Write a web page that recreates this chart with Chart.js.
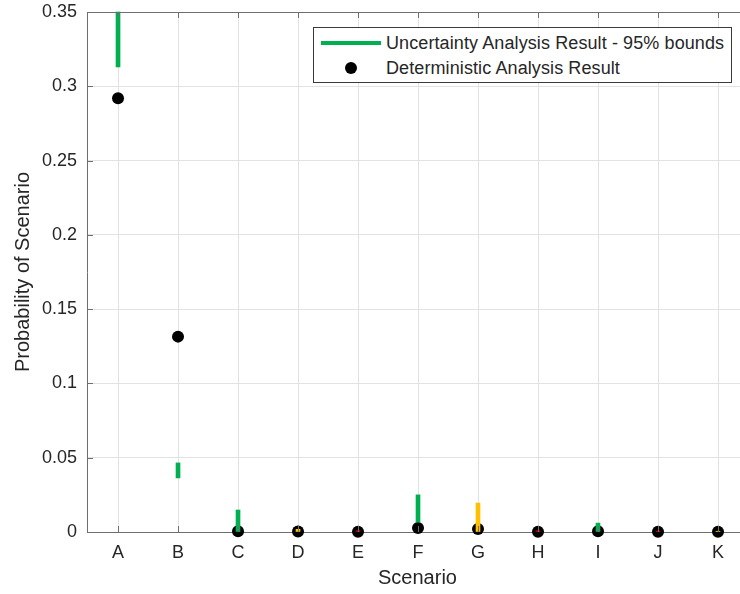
<!DOCTYPE html>
<html lang="en">
<head>
  <meta charset="UTF-8" />
  <title>Probability of Scenario</title>
  <script src="https://cdn.jsdelivr.net/npm/chart.js"></script>
  <style>
    html, body {
      margin: 0;
      padding: 0;
      background: #ffffff;
      overflow: hidden;
      font-family: 'Liberation Sans', Arial, Helvetica, sans-serif;
      color: #262626;
    }
    #wrap {
      position: relative;
      width: 760px;
      height: 594px;
    }
    #legend {
      position: absolute;
      left: 313px;
      top: 27px;
      width: 417px;
      height: 54px;
      border: 1px solid #3a3a3a;
      background: #ffffff;
      font-size: 18px;
    }
    .legend-row {
      position: absolute;
      left: 0;
      height: 24px;
      line-height: 24px;
      white-space: nowrap;
    }
    .legend-row span.label {
      position: absolute;
      left: 72px;
      top: 0;
      letter-spacing: 0.1px;
    }
    .swatch-line {
      position: absolute;
      left: 7px;
      top: 10px;
      width: 60px;
      height: 4px;
      background: #00b050;
    }
    .swatch-dot {
      position: absolute;
      left: 31px;
      top: 6px;
      width: 12px;
      height: 12px;
      border-radius: 50%;
      background: #000000;
    }
  </style>
</head>
<body>

<div id="wrap">
  <canvas id="chart"></canvas>
  <div id="legend">
    <div class="legend-row" style="top:3px;">
      <div class="swatch-line"></div>
      <span class="label">Uncertainty Analysis Result - 95% bounds</span>
    </div>
    <div class="legend-row" style="top:28px;">
      <div class="swatch-dot"></div>
      <span class="label">Deterministic Analysis Result</span>
    </div>
  </div>
</div>

<script>
  // scenarios on the x axis
  const categories = ['A', 'B', 'C', 'D', 'E', 'F', 'G', 'H', 'I', 'J', 'K'];
  // deterministic result (black dots)
  const deterministic = [0.292, 0.1315, 0.0005, 0.0003, 0.0002, 0.0027, 0.002, 0.0002, 0.0005, 0.0002, 0.0002];
  // 95% bounds from the uncertainty analysis
  const lowerBound = [0.313, 0.0364, 0, 0, 0, 0.0067, 0, 0, 0, 0, 0];
  const upperBound = [0.35, 0.0465, 0.0148, 0.0018, 0.0008, 0.025, 0.0195, 0.0008, 0.006, 0.0006, 0.0005];
  const boundColors = ['#00b050', '#00b050', '#00b050', '#ffc000', '#d00000', '#00b050', '#ffc000', '#d00000', '#00b050', '#d00000', '#ffc000'];
  const yTicks = [0, 0.05, 0.1, 0.15, 0.2, 0.25, 0.3, 0.35];

  const textColor = '#262626';
  const fontFamily = "'Liberation Sans', Arial, Helvetica, sans-serif";

  // MATLAB style box with inward ticks
  const boxPlugin = {
    id: 'boxTicks',
    afterDraw(chart) {
      const { ctx, chartArea: a, scales: { x, y } } = chart;
      ctx.save();
      ctx.strokeStyle = '#6e6e6e';
      ctx.lineWidth = 1;
      ctx.beginPath();
      ctx.moveTo(a.left, a.top + 0.5);
      ctx.lineTo(a.right, a.top + 0.5);
      ctx.moveTo(a.right - 0.5, a.top);
      ctx.lineTo(a.right - 0.5, a.bottom);
      x.ticks.forEach(t => {
        const px = Math.round(x.getPixelForValue(t.value)) + 0.5;
        ctx.moveTo(px, a.bottom);
        ctx.lineTo(px, a.bottom - 6);
        ctx.moveTo(px, a.top);
        ctx.lineTo(px, a.top + 6);
      });
      y.ticks.forEach(t => {
        const py = Math.round(y.getPixelForValue(t.value)) + 0.5;
        ctx.moveTo(a.left, py);
        ctx.lineTo(a.left + 6, py);
      });
      ctx.stroke();
      ctx.restore();
    }
  };

  const ctx = document.getElementById('chart').getContext('2d');
  new Chart(ctx, {
    data: {
      datasets: [
        {
          type: 'bar',
          label: 'Uncertainty Analysis Result - 95% bounds',
          data: categories.map((c, i) => ({ x: i + 1, y: [lowerBound[i], upperBound[i]] })),
          backgroundColor: boundColors,
          borderWidth: 0,
          barThickness: 4,
          clip: false,
          order: 0
        },
        {
          type: 'scatter',
          label: 'Deterministic Analysis Result',
          data: categories.map((c, i) => ({ x: i + 1, y: deterministic[i] })),
          backgroundColor: '#000000',
          borderWidth: 0,
          pointRadius: 6,
          pointHoverRadius: 7,
          clip: false,
          order: 1
        }
      ]
    },
    options: {
      responsive: true,
      maintainAspectRatio: false,
      animation: false,
      layout: { padding: { top: 12, right: 12, left: 0, bottom: 0 } },
      plugins: {
        legend: { display: false },
        tooltip: { enabled: true }
      },
      scales: {
        x: {
          type: 'linear',
          min: 0.483,
          max: 11.5,
          offset: false,
          afterBuildTicks: s => { s.ticks = categories.map((c, i) => ({ value: i + 1 })); },
          afterFit: s => { s.height = 62; s.paddingLeft = 0; s.paddingRight = 0; },
          ticks: {
            color: textColor,
            font: { family: fontFamily, size: 18 },
            padding: 10,
            autoSkip: false,
            maxRotation: 0,
            callback: v => categories[v - 1] || ''
          },
          grid: { color: '#e2e2e2', drawTicks: false, tickLength: 0, offset: false },
          border: { color: '#6e6e6e', width: 1 },
          title: {
            display: true,
            text: 'Scenario',
            color: textColor,
            font: { family: fontFamily, size: 20 },
            padding: { top: 0, bottom: 4 }
          }
        },
        y: {
          min: 0,
          max: 0.35,
          afterBuildTicks: s => { s.ticks = yTicks.map(v => ({ value: v })); },
          afterFit: s => { s.width = 87; s.paddingTop = 0; s.paddingBottom = 0; },
          ticks: {
            color: textColor,
            font: { family: fontFamily, size: 18 },
            padding: 10,
            callback: v => String(+v.toFixed(2))
          },
          grid: { color: '#e2e2e2', drawTicks: false, tickLength: 0 },
          border: { color: '#6e6e6e', width: 1 },
          title: {
            display: true,
            text: 'Probability of Scenario',
            color: textColor,
            font: { family: fontFamily, size: 20 },
            padding: { top: 11, bottom: 0 }
          }
        }
      }
    },
    plugins: [boxPlugin]
  });
</script>

</body>
</html>
